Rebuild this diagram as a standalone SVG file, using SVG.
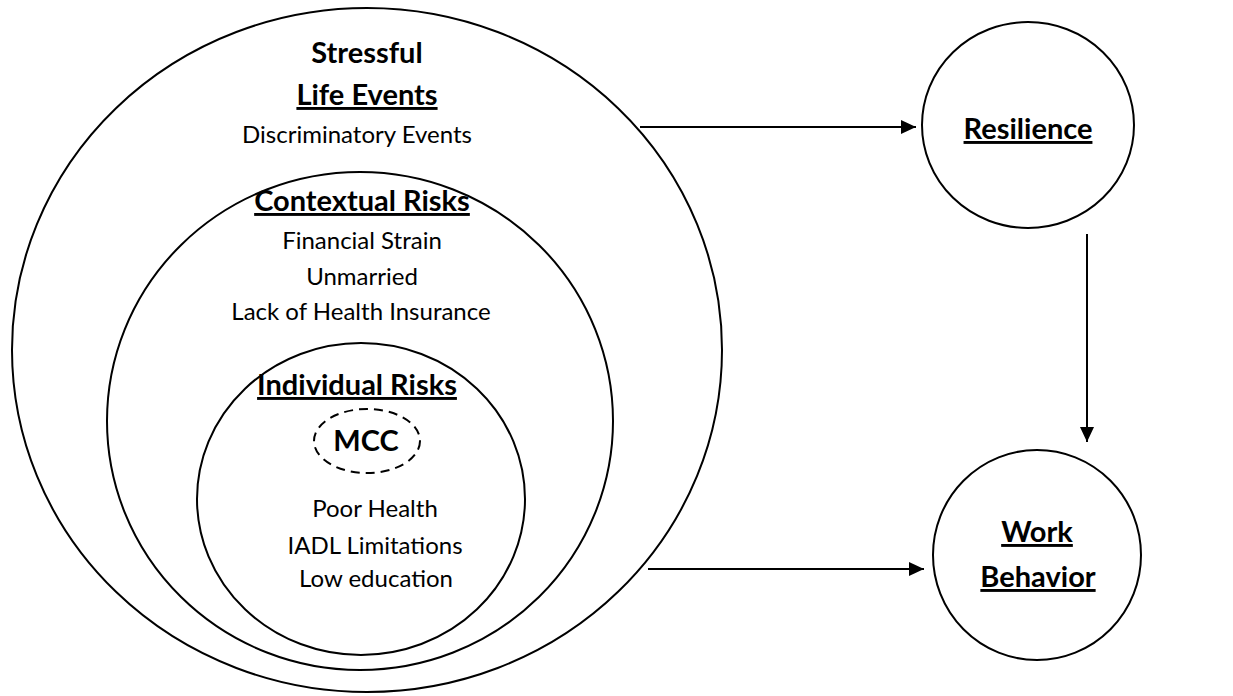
<svg xmlns="http://www.w3.org/2000/svg" width="1233" height="696" viewBox="0 0 1233 696">
<style>
.c{fill:none;stroke:#000;stroke-width:2}
.d{fill:none;stroke:#000;stroke-width:2;stroke-dasharray:9 6}
text{font-family:Lato,"Liberation Sans",sans-serif;fill:#000;text-anchor:middle}
.b{font-weight:bold;font-size:29px}
.u{text-decoration:underline}
.r{font-size:24px}
.a{stroke:#000;stroke-width:2;fill:none}
</style>
<defs>
<marker id="ah" markerWidth="15" markerHeight="14" refX="15" refY="7" orient="auto" markerUnits="userSpaceOnUse" viewBox="0 0 15 14">
<path d="M0,0 L15,7 L0,14 z" fill="#000"/>
</marker>
</defs>
<rect width="1233" height="696" fill="#fff"/>
<g id="stressful-life-events">
<ellipse class="c" cx="367" cy="350" rx="355" ry="342"/>
<text class="b" x="367" y="63">Stressful</text>
<text class="b u" x="367" y="105">Life Events</text>
<text class="r" x="357" y="143">Discriminatory Events</text>
</g>
<g id="contextual-risks">
<ellipse class="c" cx="360" cy="421" rx="253" ry="249"/>
<text class="b u" x="362" y="211">Contextual Risks</text>
<text class="r" x="362" y="249">Financial Strain</text>
<text class="r" x="362" y="285">Unmarried</text>
<text class="r" x="361" y="320">Lack of Health Insurance</text>
</g>
<g id="individual-risks">
<ellipse class="c" cx="361" cy="499" rx="164" ry="156"/>
<text class="b u" x="357" y="395">Individual Risks</text>
<text class="r" x="375" y="517">Poor Health</text>
<text class="r" x="375" y="554">IADL Limitations</text>
<text class="r" x="376" y="587">Low education</text>
</g>
<g id="mcc">
<ellipse class="d" cx="367" cy="441" rx="53" ry="32"/>
<text class="b" x="366" y="451">MCC</text>
</g>
<g id="resilience">
<ellipse class="c" cx="1028" cy="125" rx="106" ry="103"/>
<text class="b u" x="1028" y="139">Resilience</text>
</g>
<g id="work-behavior">
<ellipse class="c" cx="1037" cy="555" rx="104" ry="105"/>
<text class="b u" x="1037" y="542">Work</text>
<text class="b u" x="1038" y="587">Behavior</text>
</g>
<g id="connectors">
<line class="a" x1="640" y1="127" x2="916" y2="127" marker-end="url(#ah)"/>
<line class="a" x1="648" y1="569" x2="924" y2="569" marker-end="url(#ah)"/>
<line class="a" x1="1087" y1="234" x2="1087" y2="442" marker-end="url(#ah)"/>
</g>
</svg>
